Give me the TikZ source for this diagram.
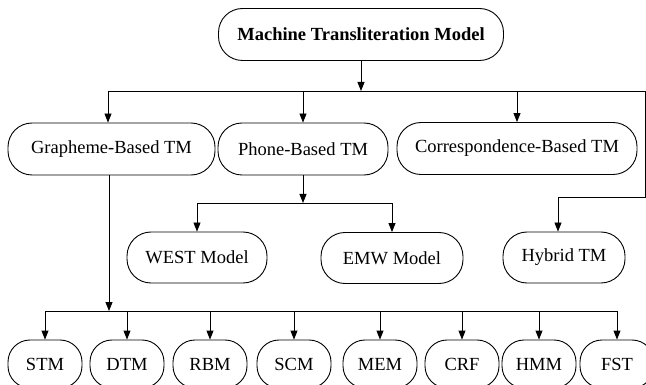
\documentclass[tikz,border=0pt]{standalone}
\usepackage{fontspec}
\setmainfont{Liberation Serif}
\usetikzlibrary{arrows.meta}

\begin{document}
\begin{tikzpicture}[x=1pt, y=-1pt,
    box/.style={draw, line width=0.9pt, rounded corners=24pt, minimum height=52pt, inner sep=0pt, font=\fontsize{18.5}{20}\selectfont},
    leaf/.style={box, minimum width=74pt, minimum height=48pt, rounded corners=22pt},
    arr/.style={line width=0.9pt, -{Triangle[length=9pt,width=7pt]}},
    bus/.style={line width=0.9pt}]
  \useasboundingbox (0,0) rectangle (646,385);
  % top and first level
  \node[box, minimum width=285pt, font=\fontsize{18.5}{20}\selectfont\bfseries] (mtm) at (361,34.5) {Machine Transliteration Model};
  \node[box, minimum width=207pt] (gbt) at (111.5,149) {Grapheme-Based TM};
  \node[box, minimum width=170pt] (pbt) at (303,149) {Phone-Based TM};
  \node[box, minimum width=240pt] (cbt) at (517,148.5) {Correspondence-Based TM};
  % second level
  \node[box, minimum width=140pt, minimum height=51pt] (west) at (197,257.5) {WEST Model};
  \node[box, minimum width=142pt, minimum height=51pt] (emw) at (392,258) {EMW Model};
  \node[box, minimum width=122pt, minimum height=51pt] (hyb) at (564,257.5) {Hybrid TM};
  % leaves
  \foreach \name/\lbl/\x in {stm/STM/45, dtm/DTM/127, rbm/RBM/210, scm/SCM/294,
                             mem/MEM/380, crf/CRF/462, hmm/HMM/539, fst/FST/617}
    \node[leaf] (\name) at (\x,364) {\lbl};

  \coordinate (b1) at (108,91);
  \coordinate (b2) at (645,91);
  \coordinate (b3) at (645,197);
  \coordinate (b4) at (558,197);
  \coordinate (p1) at (197,203);
  \coordinate (p2) at (392,203);
  \coordinate (g1) at (109,311);

  \draw[arr] (mtm.south) -- (mtm.south |- b1);
  \draw[bus] (b1) -- (b2) -- (b3) -- (b4);
  \draw[arr] (b1) -- (b1 |- gbt.north);
  \draw[arr] (pbt.north |- b1) -- (pbt.north);
  \draw[arr] (cbt.north |- b1) -- (cbt.north);
  \draw[arr] (b4) -- (b4 |- hyb.north);

  \draw[arr] (pbt.south) -- (pbt.south |- p1);
  \draw[bus] (p1) -- (p2);
  \draw[arr] (p1) -- (west.north);
  \draw[arr] (p2) -- (emw.north);

  \draw[arr] (g1 |- gbt.south) -- (g1);
  \draw[bus] (stm.north |- g1) -- (fst.north |- g1);
  \foreach \name in {stm, dtm, rbm, scm, mem, crf, hmm, fst}
    \draw[arr] (\name.north |- g1) -- (\name.north);
\end{tikzpicture}
\end{document}
